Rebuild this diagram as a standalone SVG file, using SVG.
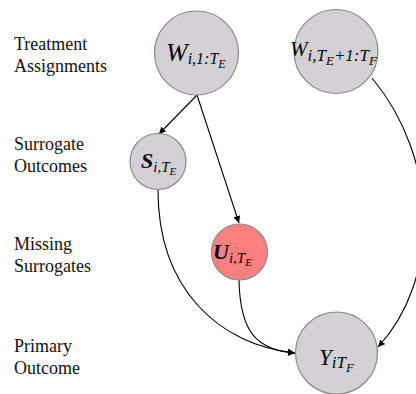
<svg xmlns="http://www.w3.org/2000/svg" width="416" height="394" viewBox="0 0 416 394">
<style>
.lbl{font-family:"Liberation Serif","Times New Roman",serif;font-size:18px;fill:#111}
.node{fill:#d3d1d3;stroke:#8a8a8a;stroke-width:1.2}
.miss{fill:#fe8080;stroke:#8a8a8a;stroke-width:1.2}
.m{font-family:"Liberation Serif","Times New Roman",serif;font-style:italic;fill:#000}
.b{font-weight:bold}
.edge{fill:none;stroke:#000;stroke-width:1.1;marker-end:url(#ah)}
</style>
<defs>
<marker id="ah" viewBox="0 0 10 10" refX="10" refY="5" markerWidth="7" markerHeight="7" markerUnits="userSpaceOnUse" orient="auto">
<path d="M0,0 L10,5 L0,10 z" fill="#000"/>
</marker>
</defs>
<rect width="416" height="394" fill="#fff"/>
<g id="labels">
<text class="lbl" x="14" y="50">Treatment</text>
<text class="lbl" x="14" y="72">Assignments</text>
<text class="lbl" x="14" y="150">Surrogate</text>
<text class="lbl" x="14" y="172">Outcomes</text>
<text class="lbl" x="14" y="250">Missing</text>
<text class="lbl" x="14" y="272">Surrogates</text>
<text class="lbl" x="14" y="352">Primary</text>
<text class="lbl" x="14" y="374">Outcome</text>
</g>
<g id="connectors">
<path class="edge" d="M197,95 L159,134"/>
<path class="edge" d="M197,95 L239,223"/>
<path class="edge" d="M158,190 C158,290 220,345 295,353"/>
<path class="edge" d="M239,280 C240,330 255,350 295,353"/>
<path class="edge" d="M372,78 C440,160 440,280 378,347"/>
</g>
<g id="W1">
<circle class="node" cx="196.5" cy="53" r="42"/>
<text class="m" x="166" y="61" font-size="26">W<tspan font-size="16" dy="3">i,1:T</tspan><tspan font-size="12" dy="4">E</tspan></text>
</g>
<g id="W2">
<circle class="node" cx="336" cy="51.5" r="42"/>
<text class="m" x="290" y="56" font-size="21">W<tspan font-size="17" dy="5">i,T</tspan><tspan font-size="13" dy="4">E</tspan><tspan font-size="17" dy="-4">+1:T</tspan><tspan font-size="13" dy="4">F</tspan></text>
</g>
<g id="S">
<circle class="node" cx="158" cy="161.5" r="28"/>
<text class="m" x="141" y="168" font-size="22"><tspan font-weight="bold">S</tspan><tspan font-size="15" dy="4">i,T</tspan><tspan font-size="11" dy="3">E</tspan></text>
</g>
<g id="U">
<circle class="miss" cx="239.5" cy="252" r="28"/>
<text class="m" x="213" y="259" font-size="22"><tspan font-weight="bold">U</tspan><tspan font-size="15" dy="4">i,T</tspan><tspan font-size="11" dy="3">E</tspan></text>
</g>
<g id="Y">
<circle class="node" cx="336.5" cy="353" r="41"/>
<text class="m" x="319" y="365" font-size="23">Y<tspan font-size="17" dy="3">iT</tspan><tspan font-size="13" dy="4">F</tspan></text>
</g>
</svg>
